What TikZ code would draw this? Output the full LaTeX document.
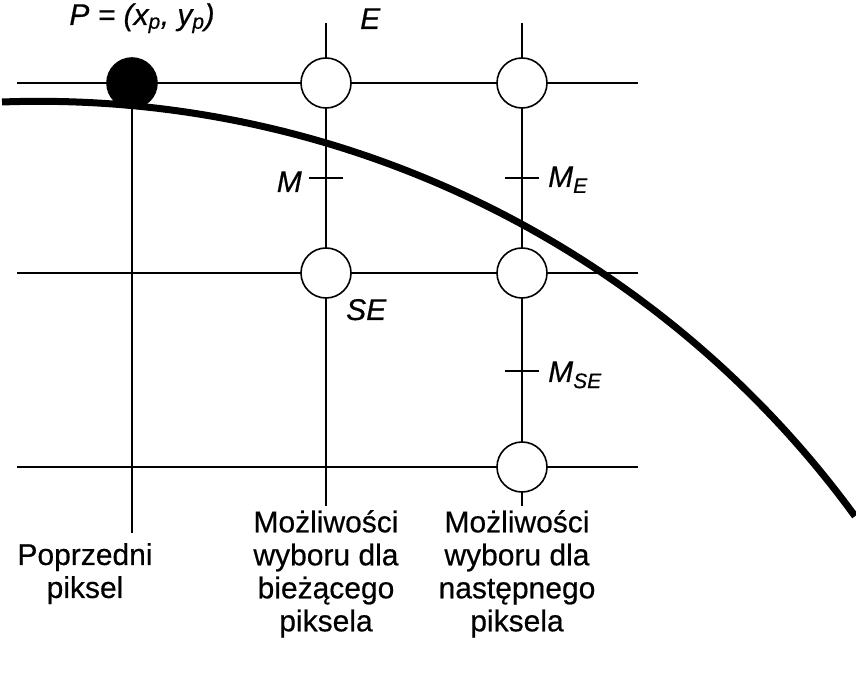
\documentclass[tikz,border=0pt]{standalone}
\usepackage{fontspec}
\setmainfont{Liberation Sans}
\usetikzlibrary{positioning}

\begin{document}
\begin{tikzpicture}[x=1pt,y=1pt]
  \tikzset{
    gridline/.style={line width=1.6pt},
    pixel/.style={
      draw,
      circle,
      line width=1.6pt,
      minimum size=50pt,
      inner sep=0pt,
      fill=white
    },
    previous/.style={pixel, fill=black},
    tickline/.style={line width=1.6pt},
    curve/.style={line width=7pt},
    lbl/.style={
      font=\fontsize{30}{33}\selectfont\itshape\addfontfeature{FakeBold=0.5},
      inner sep=0pt
    },
    desc/.style={
      font=\fontsize{30}{33}\selectfont\addfontfeature{FakeBold=0.5},
      align=center,
      inner sep=0pt
    }
  }
  \useasboundingbox (0,0) rectangle (856,672);

  % Grid ends
  \coordinate (row1w) at (17,589);
  \coordinate (row1e) at (638,589);
  \coordinate (row2w) at (17,399);
  \coordinate (row2e) at (638,399);
  \coordinate (row3w) at (17,205);
  \coordinate (row3e) at (638,205);
  \coordinate (col2top) at (326,649);
  \coordinate (col2bot) at (326,166);
  \coordinate (col3top) at (522,649);
  \coordinate (col3bot) at (522,166);
  \coordinate (col1bot) at (132,139);

  % Draw the grid lines
  \draw[gridline] (row1w) -- (row1e);
  \draw[gridline] (row2w) -- (row2e);
  \draw[gridline] (row3w) -- (row3e);
  \draw[gridline] (col2top) -- (col2bot);
  \draw[gridline] (col3top) -- (col3bot);

  % The circle arc
  \coordinate (arcstart) at (2,570);
  \draw[curve] (arcstart) arc[start angle=92.1, end angle=36.1, radius=1010];

  % Midpoints
  \coordinate (M) at (326,494);
  \coordinate (ME) at (522,494);
  \coordinate (MSE) at (522,301);
  \draw[tickline] ([xshift=-17pt]M) -- ([xshift=17pt]M);
  \draw[tickline] ([xshift=-17pt]ME) -- ([xshift=17pt]ME);
  \draw[tickline] ([xshift=-17pt]MSE) -- ([xshift=17pt]MSE);

  % Draw the pixels
  \node[previous] at (132,589) (P) {};
  \draw[gridline] (P) -- (col1bot);
  \node[pixel] at (326,589) (E) {};
  \node[pixel] at (326,399) (SE) {};
  \node[pixel] at (522,589) (nextE) {};
  \node[pixel] at (522,399) (nextM) {};
  \node[pixel] at (522,205) (nextSE) {};

  % Labels
  \node[lbl, anchor=base] at (142,647) (Plabel) {P = (x\textsubscript{p}, y\textsubscript{p})};
  \node[lbl, anchor=base west] at (360,643) (Elabel) {E};
  \node[lbl, anchor=base west] at (346,352) (SElabel) {SE};
  \node[lbl, anchor=base east] at (302,480) (Mlabel) {M};
  \node[lbl, anchor=base west] at (548,485) (MElabel) {M\textsubscript{E}};
  \node[lbl, anchor=base west] at (548,290) (MSElabel) {M\textsubscript{SE}};

  % Captions under the columns
  \node[desc, below=10pt of col1bot, xshift=-47pt] (prevtext) {Poprzedni\\piksel};
  \node[desc, below=4pt of col2bot] (curtext) {Możliwości\\wyboru dla\\bieżącego\\piksela};
  \node[desc, below=4pt of col3bot, xshift=-5pt] (nexttext) {Możliwości\\wyboru dla\\następnego\\piksela};

\end{tikzpicture}
\end{document}
